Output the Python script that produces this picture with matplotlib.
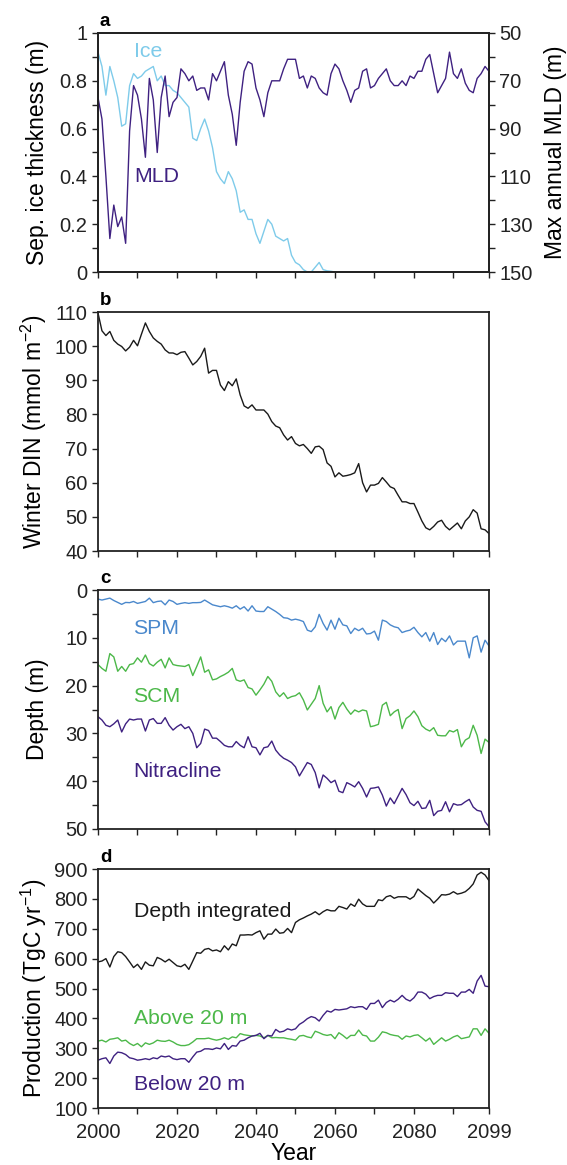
import numpy as np
import matplotlib
matplotlib.use('Agg')
import matplotlib.pyplot as plt
from matplotlib.ticker import MultipleLocator, FixedLocator, FuncFormatter

plt.rcParams['font.family'] = ['Liberation Sans', 'DejaVu Sans']
plt.rcParams['mathtext.fontset'] = 'custom'
plt.rcParams['mathtext.rm'] = 'Liberation Sans'
plt.rcParams['mathtext.default'] = 'regular'

# ---- data (one value per year) ----
ice_years = np.arange(2000, 2062)
ice = [0.92, 0.86, 0.74, 0.86, 0.80, 0.73, 0.61, 0.62, 0.78, 0.83,
       0.81, 0.82, 0.84, 0.85, 0.86, 0.80, 0.82, 0.78, 0.78, 0.76,
       0.75, 0.73, 0.71, 0.69, 0.56, 0.55, 0.60, 0.64, 0.59, 0.52,
       0.42, 0.39, 0.37, 0.42, 0.39, 0.34, 0.25, 0.26, 0.22, 0.22,
       0.16, 0.12, 0.17, 0.22, 0.20, 0.15, 0.14, 0.13, 0.14, 0.07,
       0.04, 0.03, 0.01, 0.0, 0.0, 0.02, 0.04, 0.01, 0.005, 0.003,
       0.0, 0.0]

years = np.arange(2000, 2100)
mld = [77, 86, 110, 136, 122, 131, 127, 138, 91, 72,
       76, 86, 102, 69, 78, 100, 77, 68, 85, 79,
       77, 65, 67, 70, 68, 74, 73, 73, 78, 67,
       70, 66, 62, 76, 84, 97, 79, 66, 62, 63,
       73, 78, 85, 75, 70, 70, 70, 65, 61, 61,
       61, 69, 68, 73, 68, 69, 73, 75, 76, 67,
       63, 65, 70, 74, 79, 74, 73, 66, 65, 73,
       72, 69, 67, 65, 70, 72, 72, 70, 72, 68,
       69, 66, 66, 61, 59, 67, 75, 72, 69, 58,
       67, 69, 65, 71, 74, 75, 69, 67, 64, 66]

din = [109.7, 104.5, 103.1, 104.3, 101.7, 100.6, 99.9, 98.6, 99.7, 101.7,
       100.1, 103.5, 106.8, 104.3, 102.4, 101.4, 100.6, 98.9, 98.0, 98.0,
       97.5, 98.2, 98.4, 96.5, 94.5, 95.5, 97.0, 99.4, 92.1, 92.9,
       92.9, 88.6, 87.0, 89.6, 88.4, 90.4, 85.7, 82.5, 81.8, 82.8,
       81.3, 81.3, 81.3, 80.1, 77.9, 76.6, 76.1, 74.0, 72.5, 73.5,
       71.5, 70.8, 71.2, 70.0, 68.6, 70.5, 70.7, 69.7, 65.8, 64.8,
       61.7, 62.9, 61.9, 62.1, 62.4, 62.9, 65.6, 60.0, 57.3, 59.3,
       59.3, 59.8, 61.5, 60.2, 58.8, 58.3, 56.3, 54.4, 54.4, 53.9,
       53.9, 51.4, 48.8, 46.8, 46.2, 47.2, 48.5, 49.0, 47.2, 46.2,
       47.2, 48.2, 46.5, 48.8, 50.0, 52.1, 51.1, 46.5, 46.2, 45.1]

spm = [1.9, 2.1, 1.9, 1.7, 2.2, 2.6, 3.0, 2.6, 2.65, 2.4,
       2.8, 2.6, 2.4, 1.7, 2.65, 2.4, 2.3, 3.1, 2.1, 2.4,
       3.0, 2.8, 2.65, 2.8, 2.65, 2.65, 2.6, 2.1, 2.6, 3.1,
       3.3, 3.5, 3.3, 3.5, 3.8, 3.3, 4.0, 3.5, 4.4, 3.3,
       4.4, 4.5, 4.5, 3.5, 4.0, 4.5, 5.1, 5.8, 5.9, 6.3,
       6.1, 6.3, 6.6, 8.4, 8.7, 7.7, 5.1, 7.0, 8.4, 6.3,
       8.2, 5.9, 7.3, 7.5, 9.1, 8.0, 8.5, 8.0, 9.2, 9.1,
       8.6, 10.5, 6.3, 6.6, 7.3, 7.7, 7.9, 8.9, 8.6, 8.4,
       7.8, 8.9, 9.8, 8.9, 10.7, 8.9, 11.4, 10.1, 10.8, 9.6,
       11.5, 10.7, 10.7, 10.7, 14.2, 10.0, 9.6, 13.0, 10.5, 11.7]

scm = [15.6, 16.4, 17.0, 13.3, 14.0, 17.0, 16.0, 17.0, 15.6, 15.4,
       14.2, 15.1, 13.6, 15.4, 15.9, 15.1, 14.5, 16.3, 14.2, 15.6,
       15.8, 15.9, 16.0, 15.6, 17.9, 16.0, 14.0, 17.2, 16.7, 18.8,
       18.6, 18.1, 17.7, 17.2, 16.4, 18.8, 19.1, 18.8, 20.4, 20.7,
       22.0, 20.9, 19.7, 18.1, 19.1, 21.3, 22.3, 21.5, 22.7, 22.3,
       22.1, 21.5, 23.0, 25.1, 23.9, 22.7, 20.0, 23.7, 25.5, 24.4,
       27.0, 24.6, 23.5, 24.9, 26.0, 25.1, 25.5, 25.1, 25.3, 28.6,
       28.4, 28.1, 24.1, 23.5, 26.3, 25.5, 25.0, 29.0, 26.9, 26.3,
       25.3, 26.5, 28.4, 29.1, 29.5, 28.8, 30.4, 30.5, 30.5, 29.4,
       29.7, 29.2, 32.8, 31.4, 30.9, 28.3, 30.4, 34.2, 31.2, 31.9]

nitracline = [26.5, 27.2, 28.3, 28.6, 28.0, 27.2, 29.7, 28.0, 27.0, 27.2,
              27.0, 27.0, 29.5, 27.2, 26.9, 27.9, 27.9, 26.7, 28.3, 29.3,
              28.6, 28.1, 29.0, 28.6, 30.0, 33.0, 32.1, 29.1, 29.4, 31.0,
              31.0, 31.7, 32.5, 32.8, 32.8, 31.7, 32.5, 33.0, 30.7, 32.8,
              33.0, 34.5, 33.0, 32.8, 31.6, 33.5, 34.5, 35.2, 35.6, 36.1,
              37.0, 38.9, 37.5, 36.1, 36.5, 38.2, 41.4, 38.7, 39.4, 40.3,
              39.8, 42.1, 42.4, 40.3, 40.7, 41.2, 40.1, 41.5, 43.3, 41.5,
              41.4, 41.2, 42.9, 45.2, 43.5, 44.7, 43.1, 41.5, 42.8, 44.5,
              45.1, 44.2, 45.7, 45.6, 44.0, 47.2, 46.3, 46.1, 44.3, 46.4,
              44.7, 45.0, 44.9, 44.3, 43.8, 45.4, 46.1, 46.3, 48.5, 49.5]

prod_total = [589, 592, 600, 572, 607, 623, 620, 607, 589, 570,
              581, 564, 589, 578, 576, 604, 598, 589, 598, 587,
              576, 573, 581, 564, 592, 620, 618, 631, 634, 626,
              629, 623, 643, 629, 649, 643, 679, 679, 680, 679,
              687, 693, 665, 682, 682, 699, 685, 687, 701, 687,
              721, 730, 736, 743, 749, 757, 747, 757, 764, 760,
              760, 775, 771, 766, 783, 775, 799, 783, 775, 775,
              775, 797, 794, 807, 811, 802, 807, 807, 807, 799,
              808, 833, 822, 811, 802, 786, 799, 814, 813, 816,
              824, 816, 819, 824, 835, 850, 880, 889, 880, 861]

prod_above = [324, 327, 321, 330, 332, 335, 324, 327, 316, 309,
              316, 305, 318, 313, 318, 327, 324, 323, 327, 321,
              313, 309, 309, 312, 321, 332, 332, 332, 334, 330,
              327, 330, 335, 330, 338, 335, 349, 345, 343, 341,
              343, 341, 335, 343, 335, 336, 335, 335, 332, 330,
              327, 341, 343, 338, 335, 357, 352, 346, 343, 346,
              332, 352, 343, 332, 343, 343, 361, 344, 341, 324,
              324, 337, 355, 352, 346, 343, 341, 330, 341, 338,
              343, 345, 335, 324, 334, 313, 324, 335, 324, 330,
              338, 343, 332, 335, 338, 365, 365, 343, 365, 350]

prod_below = [260, 265, 268, 249, 274, 287, 285, 279, 268, 265,
              260, 262, 265, 262, 268, 265, 274, 271, 274, 265,
              262, 265, 265, 253, 271, 287, 290, 298, 298, 296,
              301, 298, 316, 296, 309, 307, 324, 327, 335, 341,
              343, 350, 332, 343, 341, 363, 354, 357, 365, 361,
              365, 380, 388, 399, 406, 402, 391, 410, 425, 421,
              430, 428, 430, 432, 439, 436, 439, 439, 430, 450,
              450, 461, 436, 453, 461, 455, 464, 477, 464, 458,
              469, 488, 488, 481, 466, 473, 477, 477, 486, 484,
              484, 473, 488, 488, 497, 484, 525, 544, 508, 506]

xtick_labels = ['2000', '2020', '2040', '2060', '2080', '2099']

# ---- colours ----
c_ice = '#7ecbea'
c_purple = '#3f2181'
c_spm = '#4a88cc'
c_scm = '#4cb849'
c_black = '#1a1a1a'

FS = 14.5      # tick labels
FS_LAB = 16.5  # axis labels
FS_TXT = 15.3  # in-plot annotations
LW = 1.0
INK = '#222222'

fig = plt.figure(figsize=(5.67, 11.65), dpi=100)
left, width, height = 98 / 567, 391 / 567, 239 / 1165
bottoms = [1 - 272 / 1165, 1 - 551 / 1165, 1 - 829 / 1165, 1 - 1108 / 1165]
axes = [fig.add_axes([left, b, width, height]) for b in bottoms]

fmt = FuncFormatter(lambda v, pos: '%g' % round(v, 6))


def style(ax, show_x=False):
    ax.set_xlim(2000, 2099)
    ax.xaxis.set_major_locator(FixedLocator([2000, 2020, 2040, 2060, 2080, 2099]))
    ax.xaxis.set_minor_locator(FixedLocator([2010, 2030, 2050, 2070, 2090]))
    if show_x:
        ax.set_xticklabels(xtick_labels)
    else:
        ax.set_xticklabels([])
    ax.yaxis.set_major_formatter(fmt)
    ax.tick_params(which='both', direction='out', length=4.5, width=1.0,
                   labelsize=FS, colors=INK, top=False)
    ax.tick_params(axis='x', pad=6)
    ax.tick_params(axis='y', pad=3)
    for s in ax.spines.values():
        s.set_linewidth(1.3)
        s.set_color(INK)


def ylab(ax, text):
    ax.set_ylabel(text, fontsize=FS_LAB)
    ax.yaxis.set_label_coords(-0.125, 0.5)


def panel_letter(ax, letter):
    ax.text(0.005, 1.012, letter, transform=ax.transAxes, fontsize=FS - 1,
            fontweight='bold', va='bottom')


# ---- a ----
ax = axes[0]
ax.plot(ice_years, ice, color=c_ice, lw=LW)
ax.set_ylim(0, 1)
ax.yaxis.set_major_locator(MultipleLocator(0.2))
ax.yaxis.set_minor_locator(MultipleLocator(0.1))
style(ax)
ax.tick_params(right=False, which='both')
ylab(ax, 'Sep. ice thickness (m)')
ax.text(2009.1, 0.923, 'Ice', color=c_ice, fontsize=FS_TXT, va='center')
ax.text(2009.1, 0.398, 'MLD', color=c_purple, fontsize=FS_TXT, va='center')
panel_letter(ax, 'a')
ax2 = ax.twinx()
ax2.plot(years, mld, color=c_purple, lw=LW)
ax2.set_ylim(150, 50)
ax2.yaxis.set_major_locator(FixedLocator([50, 70, 90, 110, 130, 150]))
ax2.yaxis.set_minor_locator(FixedLocator([60, 80, 100, 120, 140]))
ax2.yaxis.set_major_formatter(fmt)
ax2.tick_params(which='both', direction='out', length=4.5, width=1.0,
                labelsize=FS, colors=INK, pad=3)
for s in ax2.spines.values():
    s.set_linewidth(1.3)
    s.set_color(INK)
ax2.set_ylabel('Max annual MLD (m)', fontsize=FS_LAB)
ax2.yaxis.set_label_coords(1.14, 0.5)

# ---- b ----
ax = axes[1]
ax.plot(years, din, color=c_black, lw=LW)
ax.set_ylim(40, 110)
ax.yaxis.set_major_locator(MultipleLocator(10))
style(ax)
ylab(ax, r'Winter DIN (mmol m$^{-2}$)')
panel_letter(ax, 'b')

# ---- c ----
ax = axes[2]
ax.plot(years, spm, color=c_spm, lw=LW)
ax.plot(years, scm, color=c_scm, lw=LW)
ax.plot(years, nitracline, color=c_purple, lw=LW)
ax.set_ylim(50, 0)
ax.yaxis.set_major_locator(MultipleLocator(10))
ax.yaxis.set_minor_locator(MultipleLocator(5))
style(ax)
ylab(ax, 'Depth (m)')
ax.text(2009.0, 8.0, 'SPM', color=c_spm, fontsize=FS_TXT, va='center')
ax.text(2009.0, 22.2, 'SCM', color=c_scm, fontsize=FS_TXT, va='center')
ax.text(2009.0, 38.0, 'Nitracline', color=c_purple, fontsize=FS_TXT, va='center')
panel_letter(ax, 'c')

# ---- d ----
ax = axes[3]
ax.plot(years, prod_total, color=c_black, lw=LW)
ax.plot(years, prod_above, color=c_scm, lw=LW)
ax.plot(years, prod_below, color=c_purple, lw=LW)
ax.set_ylim(100, 900)
ax.yaxis.set_major_locator(MultipleLocator(100))
style(ax, show_x=True)
ylab(ax, r'Production (TgC yr$^{-1}$)')
ax.set_xlabel('Year', fontsize=FS_LAB, labelpad=0)
ax.text(2009.2, 757, 'Depth integrated', color=c_black, fontsize=FS_TXT, va='center')
ax.text(2009.0, 399, 'Above 20 m', color=c_scm, fontsize=FS_TXT, va='center')
ax.text(2009.0, 178, 'Below 20 m', color=c_purple, fontsize=FS_TXT, va='center')
panel_letter(ax, 'd')

fig.savefig('out.png', dpi=100)
